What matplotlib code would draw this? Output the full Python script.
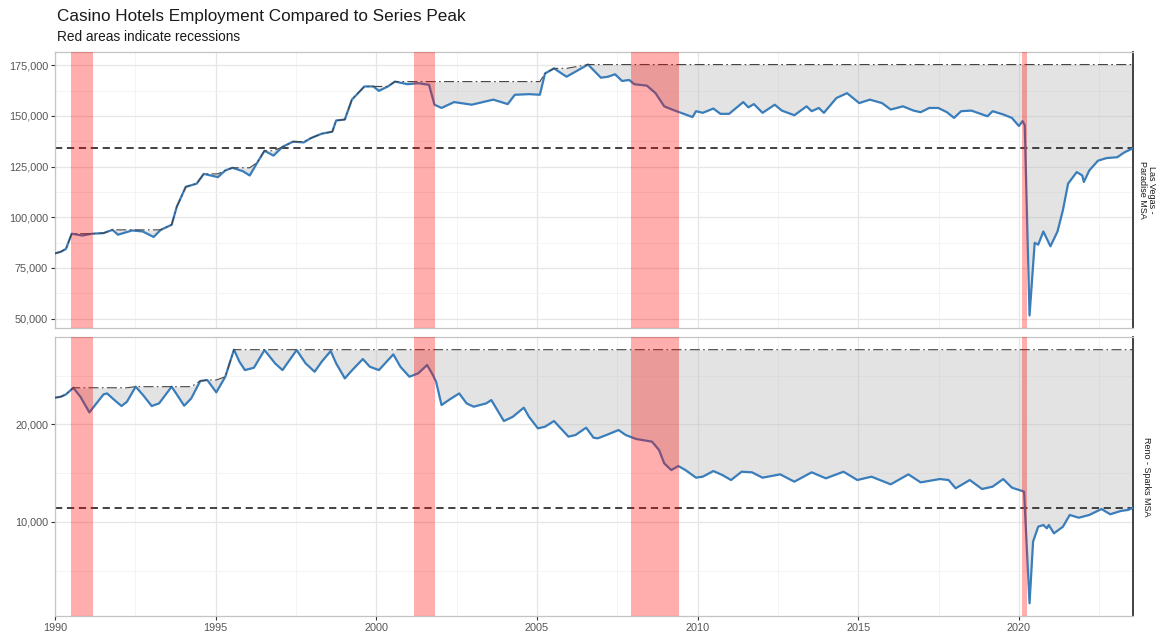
import matplotlib
matplotlib.use('Agg')
import matplotlib.pyplot as plt
import matplotlib.ticker as mticker
import numpy as np

# Las Vegas - Paradise MSA, casino hotel jobs
lv_years = [1990.00, 1990.18, 1990.34, 1990.52, 1990.85, 1991.16, 1991.51, 1991.79, 1991.96,
            1992.40, 1992.73, 1993.07, 1993.29, 1993.63, 1993.79, 1994.07, 1994.41, 1994.63,
            1995.07, 1995.30, 1995.52, 1995.85, 1996.06, 1996.30, 1996.52, 1996.80, 1997.08,
            1997.41, 1997.74, 1997.96, 1998.30, 1998.63, 1998.75, 1999.02, 1999.24, 1999.63,
            1999.91, 2000.08, 2000.36, 2000.58, 2000.97, 2001.30, 2001.64, 2001.81, 2002.03,
            2002.42, 2002.97, 2003.64, 2004.09, 2004.31, 2004.76, 2005.09, 2005.25, 2005.53,
            2005.92, 2006.59, 2006.99, 2007.21, 2007.43, 2007.65, 2007.87, 2008.03, 2008.42,
            2008.69, 2008.96, 2009.29, 2009.62, 2009.84, 2009.95, 2010.16, 2010.49, 2010.71,
            2010.98, 2011.42, 2011.58, 2011.75, 2012.02, 2012.40, 2012.62, 2013.01, 2013.39,
            2013.55, 2013.77, 2013.93, 2014.32, 2014.65, 2015.03, 2015.36, 2015.74, 2016.01,
            2016.39, 2016.72, 2016.94, 2017.21, 2017.49, 2017.76, 2017.98, 2018.20, 2018.52,
            2019.02, 2019.18, 2019.51, 2019.78, 2020.00, 2020.11, 2020.18, 2020.33, 2020.49,
            2020.60, 2020.76, 2020.98, 2021.20, 2021.37, 2021.53, 2021.80, 2021.97, 2022.02,
            2022.19, 2022.46, 2022.73, 2023.06, 2023.28, 2023.55]
lv_jobs = [82200, 83000, 84400, 91900, 91000, 91900, 92200, 93800, 91400,
           93500, 93000, 90300, 93800, 96300, 105200, 115000, 116600, 121400,
           119800, 123100, 124400, 122700, 120600, 127100, 132800, 130400, 134700,
           137300, 136900, 139000, 141200, 142200, 147700, 148200, 158000, 164500,
           164500, 162300, 164500, 166900, 165600, 166100, 165300, 155500, 153900,
           156800, 155500, 158000, 155800, 160400, 160700, 160400, 170900, 173400,
           169300, 175300, 168800, 169300, 170500, 167200, 167700, 165600, 164900,
           161200, 154700, 152600, 150700, 149400, 152300, 151500, 153600, 151000,
           151000, 156800, 154200, 155800, 151500, 155500, 152600, 150300, 154700,
           152300, 153900, 151500, 158800, 161200, 156300, 158000, 156300, 153100,
           154700, 152600, 151800, 153900, 153900, 151800, 149000, 152300, 152600,
           149800, 152300, 150700, 149000, 145000, 147400, 145500, 51600, 87400,
           86500, 93000, 85700, 93000, 103600, 116600, 122300, 120600, 117400,
           123100, 127900, 129200, 129600, 132000, 134000]

# Reno - Sparks MSA, casino hotel jobs
reno_years = [1990.00, 1990.18, 1990.34, 1990.57, 1990.79, 1991.07, 1991.29, 1991.51, 1991.62,
              1991.85, 1992.07, 1992.24, 1992.51, 1992.74, 1993.01, 1993.24, 1993.63, 1993.79,
              1994.02, 1994.24, 1994.52, 1994.74, 1995.02, 1995.30, 1995.57, 1995.74, 1995.91,
              1996.19, 1996.52, 1996.85, 1997.08, 1997.52, 1997.80, 1998.08, 1998.30, 1998.58,
              1998.75, 1999.02, 1999.25, 1999.58, 1999.80, 2000.08, 2000.53, 2000.75, 2001.03,
              2001.30, 2001.58, 2001.75, 2001.86, 2002.03, 2002.30, 2002.58, 2002.81, 2003.03,
              2003.42, 2003.58, 2003.97, 2004.25, 2004.59, 2004.75, 2005.03, 2005.25, 2005.53,
              2005.98, 2006.20, 2006.53, 2006.76, 2006.89, 2007.16, 2007.54, 2007.76, 2008.09,
              2008.58, 2008.80, 2008.96, 2009.18, 2009.40, 2009.62, 2009.95, 2010.16, 2010.49,
              2010.77, 2011.04, 2011.37, 2011.69, 2012.02, 2012.57, 2013.01, 2013.55, 2013.99,
              2014.54, 2014.97, 2015.41, 2016.01, 2016.56, 2016.94, 2017.54, 2017.81, 2018.03,
              2018.47, 2018.85, 2019.18, 2019.51, 2019.78, 2020.16, 2020.33, 2020.44, 2020.60,
              2020.76, 2020.87, 2020.93, 2021.09, 2021.37, 2021.58, 2021.86, 2022.19, 2022.57,
              2022.84, 2023.17, 2023.39, 2023.55]
reno_jobs = [22730, 22830, 23070, 23750, 22830, 21230, 22150, 23070, 23170,
             22490, 21880, 22320, 23860, 23000, 21880, 22150, 23860, 23070,
             21910, 22660, 24440, 24540, 23280, 24880, 27650, 26420, 25560,
             25800, 27610, 26250, 25560, 27610, 26250, 25390, 26420, 27510,
             26250, 24710, 25560, 26690, 25900, 25560, 27170, 25900, 24880,
             25220, 26080, 25120, 24370, 21980, 22590, 23170, 22150, 21810,
             22150, 22490, 20340, 20780, 21710, 20780, 19590, 19760, 20340,
             18740, 18910, 19660, 18630, 18570, 18910, 19420, 18910, 18500,
             18230, 17370, 16010, 15320, 15730, 15320, 14540, 14640, 15220,
             14810, 14300, 15150, 15090, 14540, 14880, 14130, 15090, 14470,
             15150, 14300, 14640, 13860, 14880, 14060, 14400, 14300, 13450,
             14300, 13380, 13620, 14400, 13520, 13110, 1670, 7990, 9520,
             9690, 9350, 9690, 8840, 9520, 10720, 10440, 10720, 11330,
             10790, 11130, 11230, 11450]

recession_starts = [1990.50, 2001.17, 2007.92, 2020.08]
recession_ends = [1991.17, 2001.84, 2009.42, 2020.25]

panel_names = ['Las Vegas -\nParadise MSA', 'Reno - Sparks MSA']
y_major = [25000, 10000]

plt.rcParams['font.family'] = ['Liberation Sans', 'DejaVu Sans']

fig = plt.figure(figsize=(11.59, 6.33), dpi=100)
left, right = 55 / 1159, 1133 / 1159
ax_top = fig.add_axes([left, 1 - 328 / 633, right - left, (328 - 52) / 633])
ax_bot = fig.add_axes([left, 1 - 616 / 633, right - left, (616 - 337) / 633])

series = [(lv_years, lv_jobs), (reno_years, reno_jobs)]
for ax, (yrs, jobs), name, step in zip([ax_top, ax_bot], series, panel_names, y_major):
    yrs = np.array(yrs)
    jobs = np.array(jobs)
    peak = np.maximum.accumulate(jobs)

    ax.fill_between(yrs, jobs, peak, color='#bdbdbd', alpha=0.42, lw=0, zorder=1)
    ax.axhline(jobs[-1], color='#333333', lw=1.3, ls=(0, (4, 2.6)), zorder=2)
    ax.plot(yrs, jobs, color='#3a7dbb', lw=1.6, zorder=3, solid_joinstyle='round')
    ax.plot(yrs, peak, color='#444444', lw=0.8, ls=(0, (9, 3, 1.5, 3)), zorder=4)
    for s, e in zip(recession_starts, recession_ends):
        ax.axvspan(s, e, color='#ff0000', alpha=0.32, lw=0, zorder=5)

    ax.set_xlim(yrs[0], yrs[-1])
    ax.margins(y=0.05)
    ax.yaxis.set_major_locator(mticker.MultipleLocator(step))
    ax.yaxis.set_minor_locator(mticker.MultipleLocator(step / 2))
    ax.yaxis.set_major_formatter(mticker.FuncFormatter(lambda v, p: f'{v:,.0f}'))
    ax.xaxis.set_major_locator(mticker.MultipleLocator(5))
    ax.xaxis.set_minor_locator(mticker.MultipleLocator(2.5))
    ax.xaxis.set_major_formatter(mticker.FuncFormatter(lambda v, p: f'{v:.0f}'))
    ax.grid(which='major', color='#e6e6e6', lw=0.9, zorder=0)
    ax.grid(which='minor', color='#f2f2f2', lw=0.6, zorder=0)
    ax.set_axisbelow(True)
    ax.tick_params(which='minor', length=0)
    ax.tick_params(which='major', length=3, color='#333333', width=0.8,
                   labelsize=7.8, labelcolor='#555555', pad=2)
    for sp in ax.spines.values():
        sp.set_color('#c4c4c4')
        sp.set_linewidth(0.9)
    ax.spines['right'].set_color('#333333')
    ax.spines['right'].set_linewidth(1.3)

    pos = ax.get_position()
    fig.text(1147 / 1159, pos.y0 + pos.height / 2, name, rotation=-90,
             ha='center', va='center', fontsize=6.5, color='#1a1a1a',
             linespacing=1.0, multialignment='center')

ax_top.tick_params(axis='x', which='both', bottom=False, labelbottom=False)

fig.text(57 / 1159, 1 - 17 / 633, 'Casino Hotels Employment Compared to Series Peak',
         ha='left', va='center', fontsize=12.3, color='#1a1a1a')
fig.text(57 / 1159, 1 - 37 / 633, 'Red areas indicate recessions',
         ha='left', va='center', fontsize=9.8, color='#1a1a1a')

fig.savefig('out.png', dpi=100)
